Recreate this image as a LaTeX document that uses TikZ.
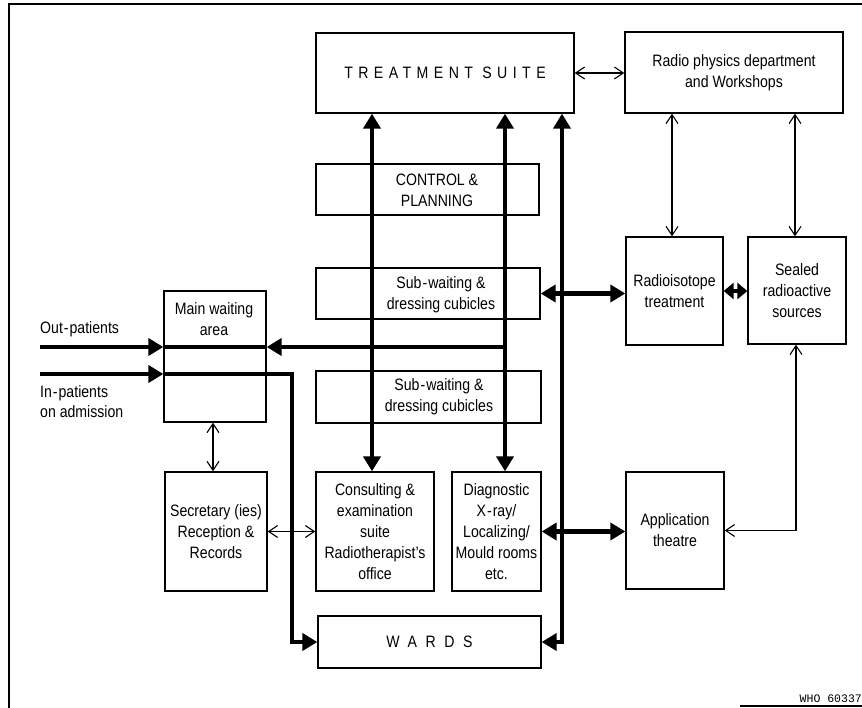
\documentclass[tikz,border=0pt]{standalone}
\usepackage{fontspec}
\setmainfont{Liberation Sans}[FakeStretch=0.855]
\newfontfamily\spacedA{Liberation Sans}[FakeStretch=0.855,LetterSpace=33]
\newfontfamily\spacedB{Liberation Sans}[FakeStretch=0.855,LetterSpace=52]
\newfontfamily\whofont{Liberation Mono}
\usetikzlibrary{arrows.meta}
\tikzset{
  bh/.tip={Triangle[length=15pt,width=17pt]},
  bhs/.tip={Triangle[length=10pt,width=16pt]},
  sh/.tip={Straight Barb[length=9pt,width=12pt]},
}
\begin{document}
\begin{tikzpicture}[x=1pt,y=-1pt,
  box/.style={draw,line width=1.3pt,inner sep=0pt},
  txt/.style={align=center,font=\fontsize{16.5}{21}\selectfont,inner sep=0pt},
  lbl/.style={align=left,font=\fontsize{16.5}{20}\selectfont,inner sep=0pt,anchor=west},
  thk/.style={line width=4.5pt},
  thn/.style={line width=1.1pt},
  frame/.style={line width=1.2pt}]
\useasboundingbox (0,0) rectangle (862,708);
% frame
\coordinate (fTL) at (9,4);
\coordinate (fTR) at (862,4);
\coordinate (fBL) at (9,708);
\coordinate (fB1) at (740,706);
\coordinate (fB2) at (862,706);
\draw[frame] (fBL) -- (fTL) -- (fTR);
\draw[frame] (fB1) -- (fB2);
% boxes
\node[box,txt,minimum width=258pt,minimum height=80pt] (ts) at (445,73) {\spacedA TREATMENT SUITE};
\node[box,txt,minimum width=218pt,minimum height=81pt] (rp) at (734,72.5) {Radio physics department\\and Workshops};
\node[box,minimum width=223pt,minimum height=51pt] (ctrl) at (427.5,189.5) {};
\node[box,minimum width=224pt,minimum height=51pt] (sw1) at (428,293.5) {};
\node[box,minimum width=225pt,minimum height=52pt] (sw2) at (428.5,397) {};
\node[box,minimum width=102pt,minimum height=131pt] (mw) at (215,356.5) {};
\node[box,txt,minimum width=97pt,minimum height=108pt] (ri) at (674.5,291) {Radioisotope\\treatment};
\node[box,txt,minimum width=98pt,minimum height=107pt] (se) at (797,290.5) {Sealed\\radioactive\\sources};
\node[box,txt,minimum width=102pt,minimum height=119pt] (sec) at (216,531.5) {Secretary (ies)\\Reception \&\\Records};
\node[box,txt,minimum width=118pt,minimum height=119pt] (con) at (375,531.5) {Consulting \&\\examination\\suite\\Radiotherapist's\\office};
\node[box,txt,minimum width=89pt,minimum height=119pt] (dia) at (496.5,531.5) {Diagnostic\\X\kern1pt-\kern1pt ray/\\Localizing/\\Mould rooms\\etc.};
\node[box,txt,minimum width=98pt,minimum height=117pt] (app) at (675,530.5) {Application\\theatre};
\node[box,txt,minimum width=223pt,minimum height=52pt] (wards) at (429.5,642) {\spacedB WARDS};
% texts in boxes placed off-centre
\node[txt] (ctrlt) at (437,190) {CONTROL \&\\PLANNING};
\node[txt] (sw1t) at (441,295) {Sub\kern1pt-\kern1pt waiting \&\\dressing cubicles};
\node[txt] (sw2t) at (439,397) {Sub\kern1pt-\kern1pt waiting \&\\dressing cubicles};
\node[txt] (mwt) at (214,319) {Main waiting\\area};
% side labels
\node[lbl] (outl) at (40,329) {Out\kern1pt-\kern1pt patients};
\node[lbl] (inl) at (40,402) {In\kern1pt-\kern1pt patients\\on admission};
\node[anchor=east,inner sep=0pt,font=\whofont\fontsize{11.5}{12}\selectfont] (who) at (862,699) {WHO 60337};
% coordinates of the trunk lines
\coordinate (L1) at (372,0);
\coordinate (L2) at (505,0);
\coordinate (L3) at (562,0);
\coordinate (Lin) at (292,0);
\coordinate (outS) at (40,347);
\coordinate (inS) at (40,374);
\coordinate (V1) at (672,0);
\coordinate (V2) at (795,0);
\coordinate (V3) at (796,0);
\coordinate (V4) at (213,0);
% thick connectors
\draw[thk,bh-bh] (con.north -| L1) -- (ts.south -| L1);
\draw[thk,bh-bh] (dia.north -| L2) -- (ts.south -| L2);
\draw[thk,bh-bh] (ts.south -| L3) -- (wards.east -| L3) -- (wards.east);
\draw[thk,-bh] (outS) -- (outS -| mw.west);
\draw[thk] (outS -| mw.west) -- (outS -| mw.east);
\draw[thk,-bh] (outS -| L2) -- (outS -| mw.east);
\draw[thk,-bh] (inS) -- (inS -| mw.west);
\draw[thk,-bh] (inS -| mw.west) -- (inS -| Lin) -- (wards.west -| Lin) -- (wards.west);
\draw[thk,bh-bh] (sw1.east) -- (sw1.east -| ri.west);
\draw[thk,bh-bh] (dia.east) -- (dia.east -| app.west);
\draw[thk,bhs-bhs] (ri.east) -- (ri.east -| se.west);
% thin connectors
\draw[thn,sh-sh] (ts.east) -- (ts.east -| rp.west);
\draw[thn,sh-sh] (rp.south -| V1) -- (ri.north -| V1);
\draw[thn,sh-sh] (rp.south -| V2) -- (se.north -| V2);
\draw[thn,sh-sh] (se.south -| V3) -- (V3 |- app.east) -- (app.east);
\draw[thn,sh-sh] (mw.south -| V4) -- (sec.north -| V4);
\draw[thn,sh-sh] (sec.east) -- (sec.east -| con.west);
\end{tikzpicture}
\end{document}
